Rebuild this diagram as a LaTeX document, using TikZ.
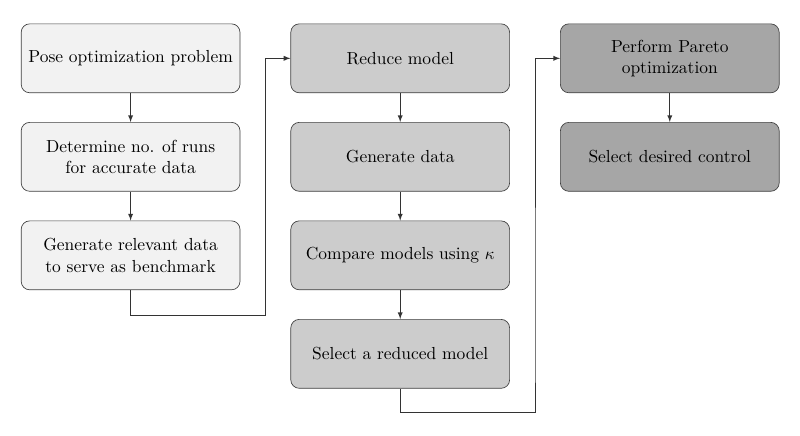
\documentclass[tikz,border=0pt]{standalone}
\usetikzlibrary{positioning,calc}

\tikzset{
  stepbox/.style={draw=black!75, rounded corners=5pt, minimum width=4.54cm,
    minimum height=1.43cm, align=center, font=\fontsize{10.3}{12.6}\selectfont},
  flow/.style={->, >=latex, black!80}
}

\begin{document}
\begin{tikzpicture}[node distance=0.6cm and 1.04cm]
\useasboundingbox (0,0) rectangle (16.6,-9.03);

% column 1: benchmark
\node[stepbox, fill=gray!10] (pose) at (2.71,-1.21) {Pose optimization problem};
\node[stepbox, fill=gray!10, below=of pose] (runs) {Determine no. of runs\\for accurate data};
\node[stepbox, fill=gray!10, below=of runs] (bench) {Generate relevant data\\to serve as benchmark};

% column 2: reduced models
\node[stepbox, fill=gray!40, right=of pose] (reduce) {Reduce model};
\node[stepbox, fill=gray!40, below=of reduce] (gen) {Generate data};
\node[stepbox, fill=gray!40, below=of gen] (compare) {Compare models using $\kappa$};
\node[stepbox, fill=gray!40, below=of compare] (select) {Select a reduced model};

% column 3: pareto
\node[stepbox, fill=gray!70, right=of reduce] (pareto) {Perform Pareto\\optimization};
\node[stepbox, fill=gray!70, below=of pareto] (control) {Select desired control};

\draw[flow] (pose) -- (runs);
\draw[flow] (runs) -- (bench);
\draw[flow] (reduce) -- (gen);
\draw[flow] (gen) -- (compare);
\draw[flow] (compare) -- (select);
\draw[flow] (pareto) -- (control);

% jumps between columns
\draw[flow] (bench.south) -- ++(0,-0.52) -| ($(bench.east)!0.5!(compare.west)$) |- (reduce.west);
\draw[flow] (select.south) -- ++(0,-0.5) -| ($(select.east)!0.5!(select.east-|control.west)$) |- (pareto.west);
\end{tikzpicture}
\end{document}
